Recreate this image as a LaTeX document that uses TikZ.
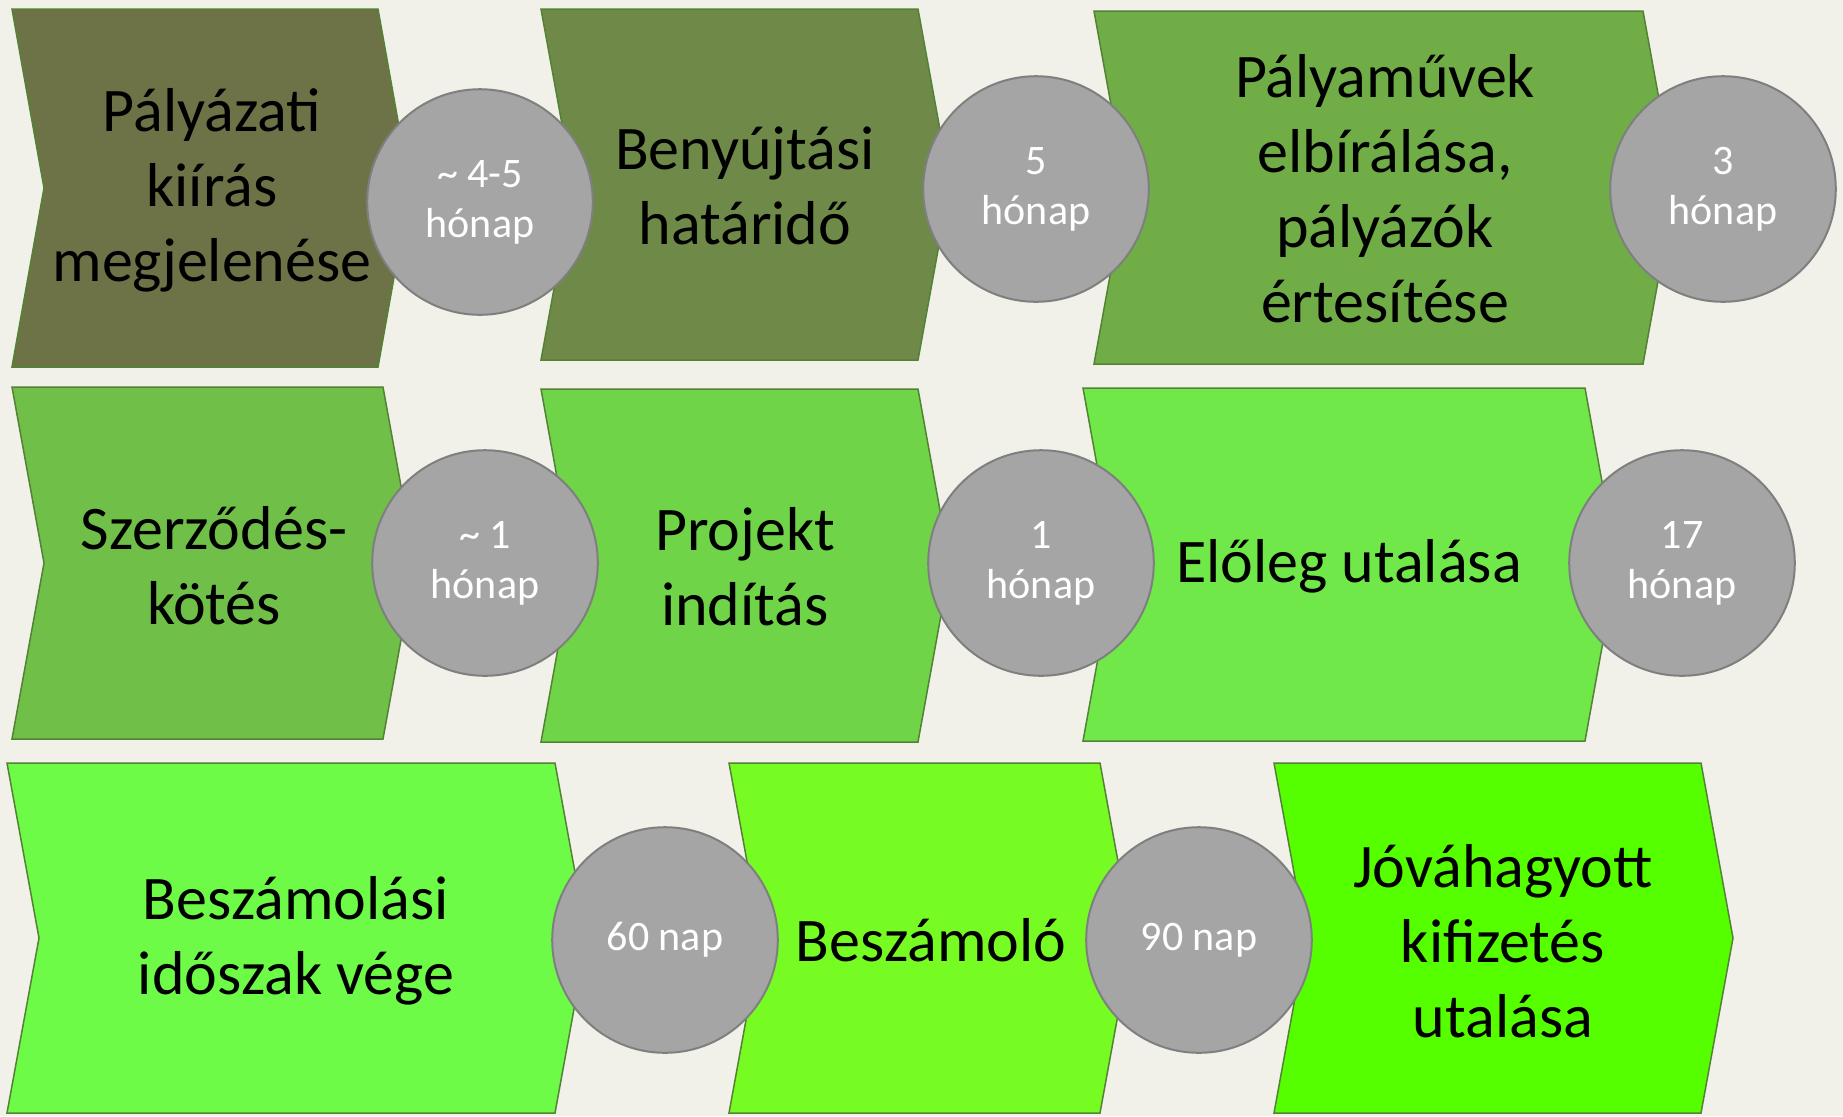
\documentclass[tikz,border=0pt]{standalone}
\usepackage{fontspec}
\setmainfont{Carlito}

\definecolor{bgcol}{HTML}{F1F1E9}
\definecolor{edgecol}{HTML}{548235}
\definecolor{stepA}{HTML}{6E7347}
\definecolor{stepB}{HTML}{6F8A48}
\definecolor{stepC}{HTML}{70AD47}
\definecolor{stepD}{HTML}{6FBF48}
\definecolor{stepE}{HTML}{6FD448}
\definecolor{stepF}{HTML}{70E84A}
\definecolor{stepG}{HTML}{6DFB48}
\definecolor{stepH}{HTML}{76FC22}
\definecolor{stepI}{HTML}{55FF00}
\definecolor{dotfill}{HTML}{A5A5A5}
\definecolor{dotedge}{HTML}{7F7F7F}

% chevron: left, right, top, bottom, fill colour
\newcommand{\chevbox}[5]{%
  \filldraw[chevline, fill=#5] (#1,#3) -- (#2,#3) -- (#2+32,{(#3+#4)/2})
    -- (#2,#4) -- (#1,#4) -- (#1+32,{(#3+#4)/2}) -- cycle;}

\tikzset{
  chevline/.style={draw=edgecol, line width=0.75pt, line join=miter},
  steptext/.style={align=center, text=black, font=\fontsize{31}{37.5}\selectfont},
  timedot/.style={circle, fill=dotfill, draw=dotedge, line width=1pt,
    minimum size=112.8pt, inner sep=0pt, align=center, text=white,
    font=\fontsize{21}{25}\selectfont}
}

\begin{document}
\begin{tikzpicture}[x=0.5pt, y=-0.5pt]
    \fill [bgcol] (0,0) rectangle (1843,1116);
    \useasboundingbox (0,0) rectangle (1843,1116);

    % first row
    \chevbox{12}{378}{9}{367}{stepA}
    \chevbox{541}{918}{9}{360}{stepB}
    \chevbox{1094}{1643}{11}{364}{stepC}
    % second row
    \chevbox{12}{383}{387}{739}{stepD}
    \chevbox{541}{918}{389}{742}{stepE}
    \chevbox{1083}{1585}{388}{741}{stepF}
    % third row
    \chevbox{7}{555}{763}{1113}{stepG}
    \chevbox{729}{1100}{763}{1113}{stepH}
    \chevbox{1274}{1701}{763}{1113}{stepI}

    \node[steptext] (kiiras) at (212,190) {Pályázati\\kiírás\\megjelenése};
    \node[steptext] (benyujtas) at (745,186) {Benyújtási\\határidő};
    \node[steptext] (elbiralas) at (1385,189) {Pályaművek\\elbírálása,\\pályázók\\értesítése};
    \node[steptext] (szerzodes) at (214,566) {Szerződés-\\kötés};
    \node[steptext] (projekt) at (745,567) {Projekt\\indítás};
    \node[steptext] (eloleg) at (1349,566) {Előleg utalása};
    \node[steptext] (idoszak) at (296,941) {Beszámolási\\időszak vége};
    \node[steptext] (beszamolo) at (931,940) {Beszámoló};
    \node[steptext] (kifizetes) at (1503,941) {Jóváhagyott\\kifizetés\\utalása};

    \node[timedot] (t1) at (480,202) {\~{} 4-5\\hónap};
    \node[timedot] (t2) at (1036,189) {5\\hónap};
    \node[timedot] (t3) at (1723,189) {3\\hónap};
    \node[timedot] (t4) at (485,563) {\~{} 1\\hónap};
    \node[timedot] (t5) at (1041,563) {1\\hónap};
    \node[timedot] (t6) at (1682,563) {17\\hónap};
    \node[timedot] (t7) at (665,940) {60 nap};
    \node[timedot] (t8) at (1199,940) {90 nap};
\end{tikzpicture}
\end{document}
